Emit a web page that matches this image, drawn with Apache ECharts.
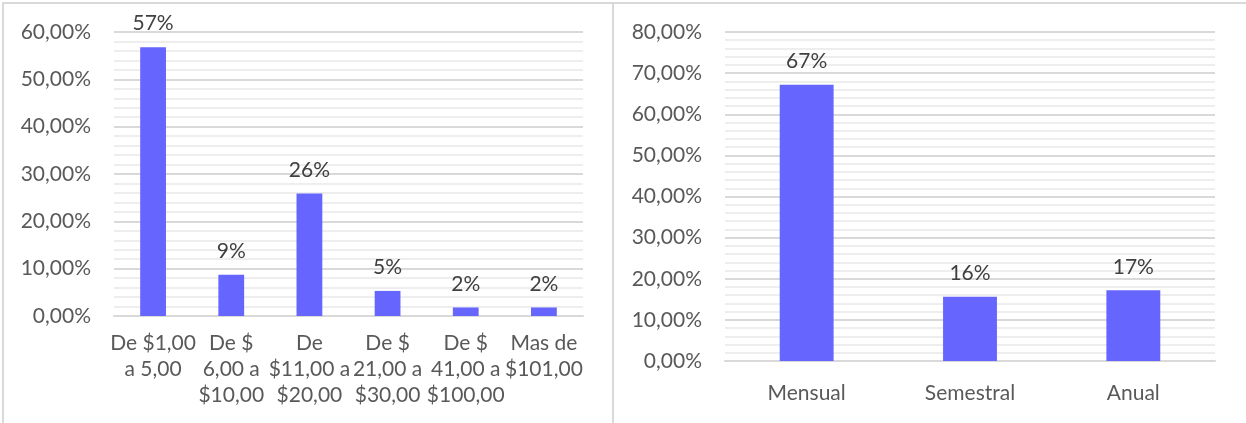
<!DOCTYPE html>
<html>
  <head>
    <meta charset="utf-8" />
    <title>ECharts</title>
    <script src="https://cdn.jsdelivr.net/npm/echarts@6/dist/echarts.min.js"></script>
    <style>
      html, body { margin: 0; padding: 0; background: #fff; }
    </style>
  </head>
  <body>
    <div id="main" style="width: 1246px; height: 423px"></div>
    <script type="text/javascript">
      // datos del gráfico izquierdo (rango de precio)
      var rangos = [
        "De $1,00\na 5,00",
        "De $\n6,00 a\n$10,00",
        "De\n$11,00 a\n$20,00",
        "De $\n21,00 a\n$30,00",
        "De $\n41,00 a\n$100,00",
        "Mas de\n$101,00"
      ];
      var rangosValores = [56.8, 8.7, 25.9, 5.3, 1.8, 1.8];

      // datos del gráfico derecho (frecuencia)
      var frecuencias = ["Mensual", "Semestral", "Anual"];
      var frecuenciasValores = [67.2, 15.6, 17.2];

      var fuente = "Lato, 'Open Sans', sans-serif";
      var gris = "#595959";
      var azul = "#6666ff";
      var tam = 21;

      function fmtEje(v) {
        return v.toFixed(2).replace(".", ",") + "%";
      }
      function fmtEtiqueta(p) {
        return Math.round(p.value) + "%";
      }

      function ejeY(idx, max) {
        return {
          type: "value",
          gridIndex: idx,
          min: 0,
          max: max,
          interval: 10,
          axisLine: { show: false },
          axisTick: { show: false },
          axisLabel: {
            formatter: fmtEje,
            color: gris,
            fontFamily: fuente,
            fontSize: tam,
            margin: 23
          },
          splitLine: { lineStyle: { color: "#d9d9d9", width: 2 } },
          minorTick: { show: false, splitNumber: 5 },
          minorSplitLine: { show: true, lineStyle: { color: "#eeeeee", width: 2 } }
        };
      }

      function etiquetaBarra() {
        return {
          show: true,
          position: "top",
          distance: 13,
          formatter: fmtEtiqueta,
          color: "#404040",
          fontFamily: fuente,
          fontSize: tam
        };
      }

      var myChart = echarts.init(document.getElementById("main"));

      var option = {
        animation: false,
        graphic: [
          {
            type: "rect",
            shape: { x: 3, y: 3, width: 610, height: 430 },
            style: { fill: "none", stroke: "#d9d9d9", lineWidth: 2 }
          },
          {
            type: "rect",
            shape: { x: 613, y: 3, width: 640, height: 430 },
            style: { fill: "none", stroke: "#d9d9d9", lineWidth: 2 }
          }
        ],
        grid: [
          { left: 114, right: 663, top: 32, bottom: 107 },
          { left: 725, right: 31, top: 32, bottom: 62 }
        ],
        xAxis: [
          {
            type: "category",
            gridIndex: 0,
            data: rangos,
            axisLine: { lineStyle: { color: "#d9d9d9", width: 2 } },
            axisTick: { show: false },
            axisLabel: {
              color: gris,
              fontFamily: fuente,
              fontSize: tam,
              lineHeight: 26,
              margin: 14,
              interval: 0
            }
          },
          {
            type: "category",
            gridIndex: 1,
            data: frecuencias,
            axisLine: { lineStyle: { color: "#d9d9d9", width: 2 } },
            axisTick: { show: false },
            axisLabel: {
              color: gris,
              fontFamily: fuente,
              fontSize: tam,
              lineHeight: 26,
              margin: 19
            }
          }
        ],
        yAxis: [ejeY(0, 60), ejeY(1, 80)],
        series: [
          {
            type: "bar",
            xAxisIndex: 0,
            yAxisIndex: 0,
            data: rangosValores,
            barWidth: "33%",
            itemStyle: { color: azul },
            label: etiquetaBarra()
          },
          {
            type: "bar",
            xAxisIndex: 1,
            yAxisIndex: 1,
            data: frecuenciasValores,
            barWidth: "33%",
            itemStyle: { color: azul },
            label: etiquetaBarra()
          }
        ]
      };
      myChart.setOption(option);
    </script>
  </body>
</html>
